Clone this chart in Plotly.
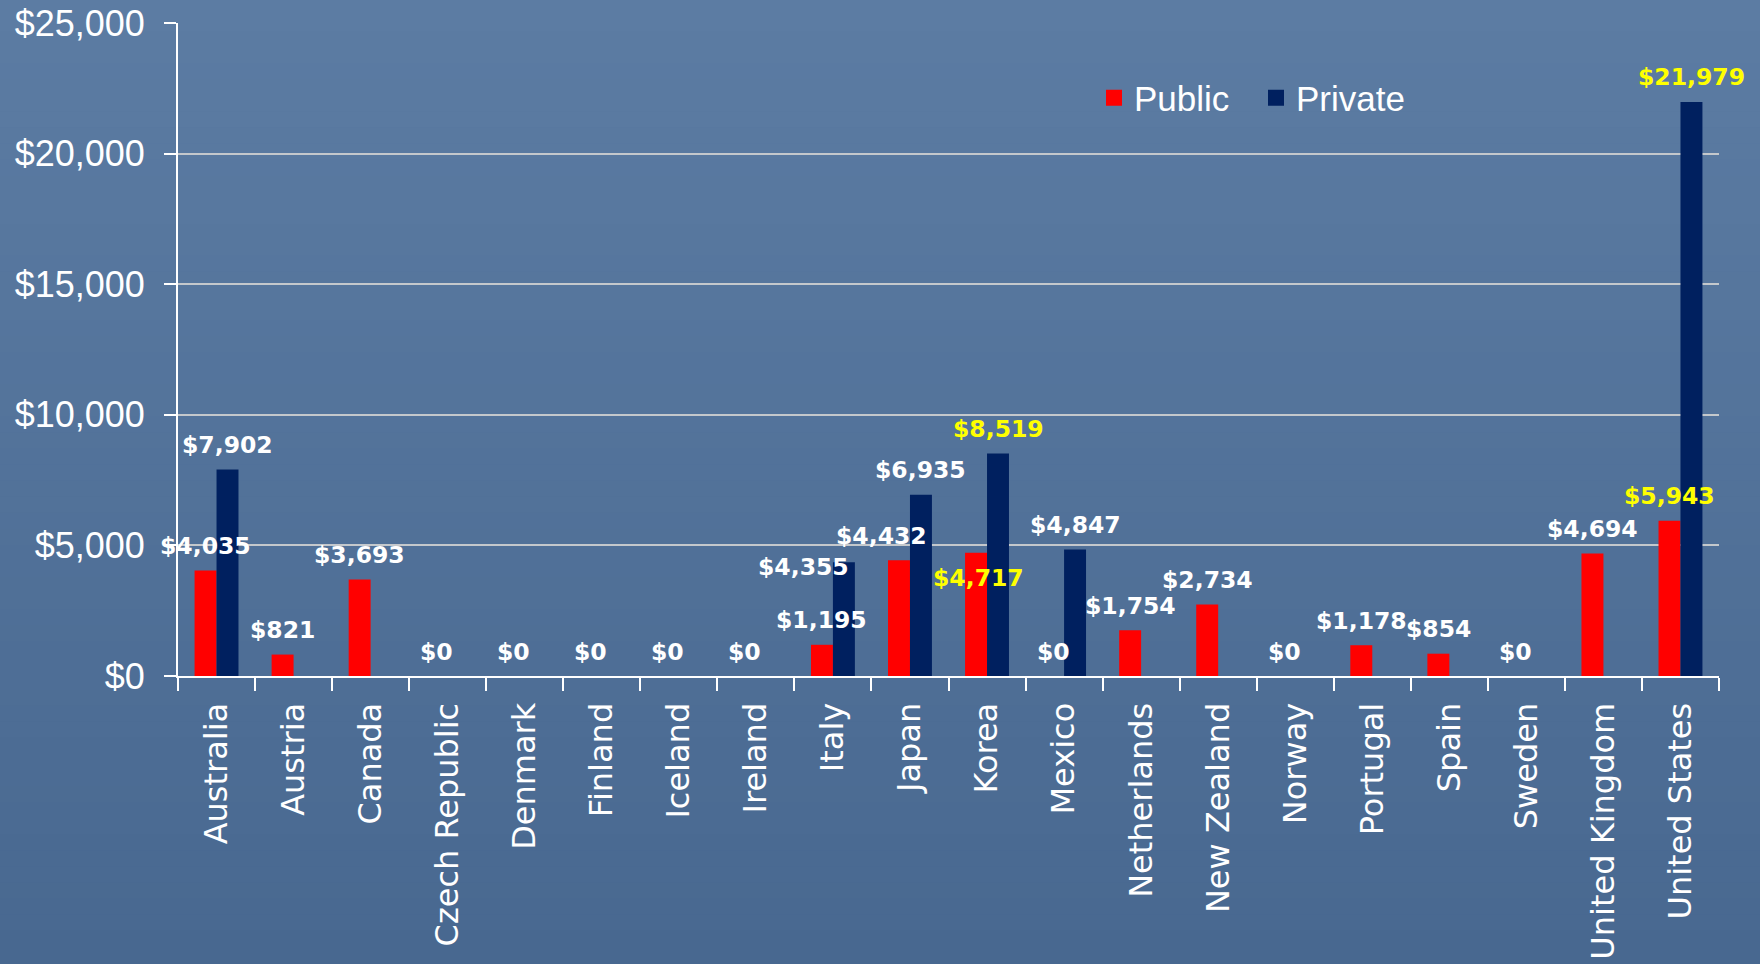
import plotly.graph_objects as go

# ---------------- data ----------------
countries = ["Australia", "Austria", "Canada", "Czech Republic", "Denmark", "Finland",
             "Iceland", "Ireland", "Italy", "Japan", "Korea", "Mexico", "Netherlands",
             "New Zealand", "Norway", "Portugal", "Spain", "Sweden", "United Kingdom",
             "United States"]
public = [4035, 821, 3693, 0, 0, 0, 0, 0, 1195, 4432, 4717, 0, 1754, 2734, 0, 1178, 854, 0, 4694, 5943]
private = [7902, None, None, None, None, None, None, None, 4355, 6935, 8519, 4847, None, None,
           None, None, None, None, None, 21979]
y_ticks = [0, 5000, 10000, 15000, 20000, 25000]
y_tick_labels = ["$0", "$5,000", "$10,000", "$15,000", "$20,000", "$25,000"]
highlight = ["Korea", "United States"]

# ---------------- styling ----------------
W, H = 1760, 964
ML, MR, MT, MB = 178, 41, 23, 288
BARGAP = 0.43
plot_w = W - ML - MR
plot_h = H - MT - MB
cat_w = plot_w / len(countries)
bar_w = cat_w * (1 - BARGAP) / 2
half = bar_w / 2

RED = "#ff0000"
NAVY = "#00205f"
WHITE = "#ffffff"
YELLOW = "#ffff00"

# label offsets (px) relative to standard position
label_adjust = {
    ("Italy", "private"): (-40, -29.5),
    ("Japan", "public"): (-17, 0),
    ("Korea", "public"): (2, -50),
}
STD_LIFT = 24.5

fig = go.Figure()
fig.add_trace(go.Bar(name="Public", x=countries, y=public, marker_color=RED,
                     marker_line_width=0, showlegend=False))
fig.add_trace(go.Bar(name="Private", x=countries, y=private, marker_color=NAVY,
                     marker_line_width=0, showlegend=False))
# legend entries with larger square swatches
for nm, col in (("Public", RED), ("Private", NAVY)):
    fig.add_trace(go.Scatter(name=nm, x=[None], y=[None], mode="markers",
                             marker=dict(symbol="square", size=20, color=col, line_width=0),
                             showlegend=True, hoverinfo="skip"))

annotations = []
for series, vals, side in (("public", public, -1), ("private", private, 1)):
    for c, v in zip(countries, vals):
        if v is None:
            continue
        dx, dy = label_adjust.get((c, series), (0, 0))
        color = YELLOW if c in highlight else WHITE
        annotations.append(dict(
            x=c, y=v, xref="x", yref="y", text=f"${v:,}", showarrow=False,
            xshift=side * half + dx, yshift=STD_LIFT + dy,
            xanchor="center", yanchor="middle",
            font=dict(family="DejaVu Sans", size=23.5, color=color, weight="bold"),
        ))

# background gradient (decorative)
shapes = []
top_rgb = (92, 124, 163)
bot_rgb = (72, 104, 144)
n = 60
y_top = (H - MB) / plot_h
y_bot = -(MB) / plot_h
for i in range(n):
    t0 = i / n
    t1 = (i + 1) / n
    t = (t0 + t1) / 2
    rgb = tuple(round(a + (b - a) * t) for a, b in zip(top_rgb, bot_rgb))
    shapes.append(dict(type="rect", xref="paper", yref="paper",
                       x0=-ML / plot_w - 0.01, x1=1 + MR / plot_w + 0.01,
                       y0=y_top - (y_top - y_bot) * t1 - 0.002,
                       y1=y_top - (y_top - y_bot) * t0 + 0.002,
                       fillcolor=f"rgb{rgb}", line=dict(width=0), layer="below"))

fig.update_layout(
    width=W, height=H,
    margin=dict(l=ML, r=MR, t=MT, b=MB, autoexpand=False),
    paper_bgcolor="rgb(84,116,155)",
    plot_bgcolor="rgba(0,0,0,0)",
    barmode="group", bargap=BARGAP, bargroupgap=0,
    showlegend=True,
    legend=dict(orientation="h", x=(1094 - ML) / plot_w, y=(H - MB - 98) / plot_h,
                xanchor="left", yanchor="middle", bgcolor="rgba(0,0,0,0)",
                font=dict(family="Liberation Sans, Arial, sans-serif", size=35, color=WHITE),
                itemwidth=30, entrywidth=117, entrywidthmode="pixels",
                traceorder="normal"),
    annotations=annotations,
    shapes=shapes,
)
fig.update_xaxes(
    range=[-0.5, len(countries) - 0.5],
    showline=True, linecolor=WHITE, linewidth=2,
    ticks="outside", ticklen=13, tickwidth=2, tickcolor=WHITE, tickson="boundaries",
    tickangle=-90, tickfont=dict(family="DejaVu Sans", size=32, color=WHITE),
    ticklabelstandoff=12,
    showgrid=False, automargin=False,
)
fig.update_yaxes(
    range=[0, 25000], tickmode="array", tickvals=y_ticks, ticktext=y_tick_labels,
    showgrid=True, gridcolor="#c4c8cc", gridwidth=2,
    showline=True, linecolor=WHITE, linewidth=2, zeroline=False,
    ticks="outside", ticklen=12, tickwidth=2, tickcolor=WHITE, ticklabelstandoff=12,
    tickfont=dict(family="Liberation Sans, Arial, sans-serif", size=36, color=WHITE),
    automargin=False,
)

fig.write_html(
    "out.html",
    config={"displayModeBar": False},
    post_script="document.body.style.margin='0';document.body.style.overflow='hidden';",
)
